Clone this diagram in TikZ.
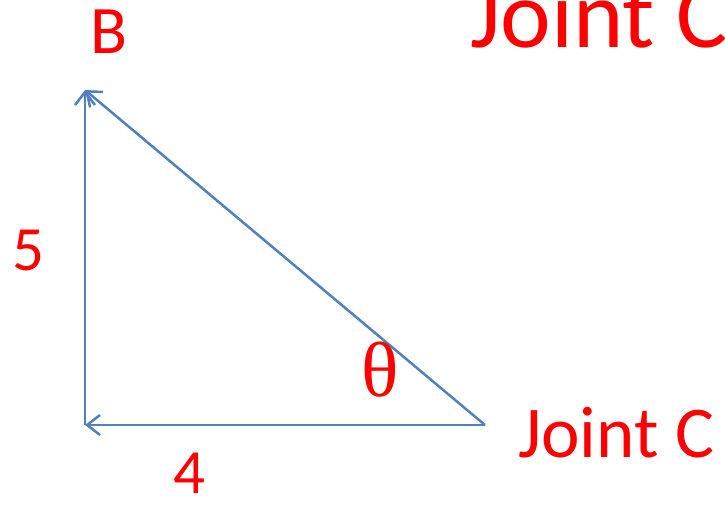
\documentclass[tikz,border=0pt]{standalone}
\usepackage{fontspec}
\setmainfont{Carlito}
\newfontfamily\thetafont{Liberation Serif}
\usetikzlibrary{arrows.meta}
\definecolor{lineblue}{HTML}{4F81BD}
\definecolor{labred}{HTML}{FF0000}
\begin{document}
\begin{tikzpicture}[x=1pt,y=-1pt,
  edge/.style={draw=lineblue,line width=2.5pt,-{Straight Barb[length=13pt,width=20pt,line width=2.5pt]}},
  lab/.style={text=labred,inner sep=0pt}]
\useasboundingbox (0,0) rectangle (725,507);
\coordinate (A) at (85,425);
\coordinate (B) at (85,90);
\coordinate (C) at (485,425);
\draw[edge] (C) -- (B);
\draw[edge] (C) -- (A);
\draw[edge] (A) -- (B);
\node[lab,anchor=base] (lb) at (109,53) {\fontsize{68}{68}\selectfont B};
\node[lab,anchor=base] (l5) at (28,270) {\fontsize{63}{63}\selectfont 5};
\node[lab,anchor=base] (l4) at (189,493) {\fontsize{63}{63}\selectfont 4};
\node[lab,anchor=base] (lt) at (380,396) {\thetafont\fontsize{78}{78}\selectfont θ};
\node[lab,anchor=base west] (lc) at (518,457) {\fontsize{73}{73}\selectfont Joint C};
\node[lab,anchor=base west] (lc2) at (470,47) {\fontsize{96}{96}\selectfont Joint C};
\end{tikzpicture}
\end{document}
